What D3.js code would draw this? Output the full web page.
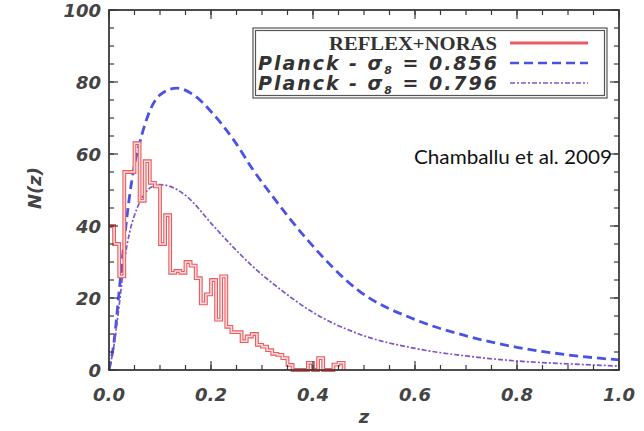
<!DOCTYPE html>
<html>
<head>
<meta charset="utf-8">
<script src="https://cdn.jsdelivr.net/npm/d3@7"></script>
<style>
  html, body { margin: 0; padding: 0; background: #fff; }
  svg { display: block; }
</style>
</head>
<body>
<script>
// Cluster redshift distribution N(z): observed histogram and two model predictions.

// REFLEX+NORAS histogram, bins of width 0.01 starting at z = 0
const histBinWidth = 0.01;
const histCounts = [40, 35, 26, 55, 55, 63, 47, 58, 52, 51,
                    35, 43, 27, 27.5, 27, 30, 29, 25.5, 18.5, 21,
                    25, 14, 26, 12, 10.5, 10.5, 8, 9.3, 10, 7,
                    6.5, 5.5, 4.5, 4.2, 3.3, 1.4, 0, 0, 0, 2,
                    0, 3.3, 0, 0, 1.5, 2];

// Planck model, sigma_8 = 0.856: [z, N]
const planck856 = [[0, 0], [0.01, 8], [0.02, 22], [0.03, 36], [0.04, 48], [0.05, 57],
                   [0.06, 63], [0.07, 68], [0.08, 72], [0.1, 76.4], [0.133, 78.3],
                   [0.165, 76.5], [0.205, 71], [0.244, 64], [0.283, 55.5], [0.322, 48],
                   [0.39, 36], [0.49, 22], [0.6, 14], [0.7, 9.5], [0.8, 6.3], [0.9, 4.2], [1.0, 2.8]];

// Planck model, sigma_8 = 0.796: [z, N]
const planck796 = [[0, 0], [0.01, 7], [0.02, 18], [0.03, 30], [0.04, 38], [0.05, 43],
                   [0.06, 46.5], [0.07, 49], [0.085, 51], [0.1, 51.5], [0.12, 51],
                   [0.15, 48.5], [0.205, 40], [0.231, 36], [0.28, 29], [0.335, 22.5],
                   [0.4, 16], [0.49, 10], [0.6, 6], [0.7, 3.9], [0.8, 2.5], [0.9, 1.7], [1.0, 1.1]];

const xTickValues = [0, 0.2, 0.4, 0.6, 0.8, 1.0];
const yTickValues = [0, 20, 40, 60, 80, 100];
const legendLabels = ["REFLEX+NORAS", "Planck - \u03C3", "Planck - \u03C3"];
const sigmaValues = ["0.856", "0.796"];
const citation = "Chamballu et al. 2009";

const W = 644, H = 431;
const plot = { left: 109, top: 10, right: 619, bottom: 370 };

const svg = d3.select("body").append("svg")
  .attr("width", W).attr("height", H);

const x = d3.scaleLinear().domain([0, 1]).range([plot.left, plot.right]);
const y = d3.scaleLinear().domain([0, 100]).range([plot.bottom, plot.top]);

const axisColor = "#3a3a3a";
const textColor = "#444";
const labelFont = "'DejaVu Sans', sans-serif";

// --- model curves -----------------------------------------------------
const curve = d3.line()
  .x(d => x(d[0])).y(d => y(d[1]))
  .curve(d3.curveMonotoneX);

svg.append("path")
  .attr("d", curve(planck856))
  .attr("fill", "none")
  .attr("stroke", "#4a52e6")
  .attr("stroke-width", 2.8)
  .attr("stroke-dasharray", "9,5");

svg.append("path")
  .attr("d", curve(planck796))
  .attr("fill", "none")
  .attr("stroke", "#7d55c9")
  .attr("stroke-width", 1.7)
  .attr("stroke-dasharray", "5,2,2,2");

// --- histogram (step outline) -----------------------------------------
const histPts = histCounts.map((v, i) => [i * histBinWidth, v]);
histPts.push([histCounts.length * histBinWidth, 0]);
const step = d3.line()
  .x(d => x(d[0])).y(d => y(d[1]))
  .curve(d3.curveStepAfter);

svg.append("path")
  .attr("d", step(histPts))
  .attr("fill", "none")
  .attr("stroke", "#ec5b5f")
  .attr("stroke-width", 3.8);
svg.append("path")
  .attr("d", step(histPts))
  .attr("fill", "none")
  .attr("stroke", "#fbdcdc")
  .attr("stroke-width", 1.6);

// --- frame and ticks --------------------------------------------------
const axes = svg.append("g");

const xMinor = d3.range(0, 1.0001, 0.05);
const yMinor = d3.range(0, 100.001, 5);

function drawXTicks(values, len) {
  values.forEach(v => {
    axes.append("line").attr("x1", x(v)).attr("x2", x(v))
      .attr("y1", plot.bottom).attr("y2", plot.bottom - len);
    axes.append("line").attr("x1", x(v)).attr("x2", x(v))
      .attr("y1", plot.top).attr("y2", plot.top + len);
  });
}
function drawYTicks(values, len) {
  values.forEach(v => {
    axes.append("line").attr("y1", y(v)).attr("y2", y(v))
      .attr("x1", plot.left).attr("x2", plot.left + len);
    axes.append("line").attr("y1", y(v)).attr("y2", y(v))
      .attr("x1", plot.right).attr("x2", plot.right - len);
  });
}
drawXTicks(xMinor, 5);
drawXTicks(xTickValues, 9);
drawYTicks(yMinor, 5);
drawYTicks(yTickValues, 9);
axes.selectAll("line").attr("stroke", axisColor).attr("stroke-width", 1.2);

axes.append("rect")
  .attr("x", plot.left).attr("y", plot.top)
  .attr("width", plot.right - plot.left).attr("height", plot.bottom - plot.top)
  .attr("fill", "none").attr("stroke", axisColor).attr("stroke-width", 1.8);

// tick labels
svg.append("g").selectAll("text").data(xTickValues).join("text")
  .attr("x", d => x(d)).attr("y", 401)
  .attr("text-anchor", "middle")
  .attr("font-family", labelFont).attr("font-style", "italic").attr("font-weight", "bold")
  .attr("font-size", 18).attr("fill", textColor)
  .text(d => d3.format(".1f")(d));

svg.append("g").selectAll("text").data(yTickValues).join("text")
  .attr("x", 101).attr("y", d => y(d) + 6.5)
  .attr("text-anchor", "end")
  .attr("font-family", labelFont).attr("font-style", "italic").attr("font-weight", "bold")
  .attr("font-size", 18).attr("fill", textColor)
  .text(d => d);

// axis titles
svg.append("text")
  .attr("x", (plot.left + plot.right) / 2).attr("y", 423)
  .attr("text-anchor", "middle")
  .attr("font-family", labelFont).attr("font-style", "italic").attr("font-weight", "bold")
  .attr("font-size", 18).attr("fill", textColor)
  .text("z");

svg.append("text")
  .attr("transform", "translate(41,188) rotate(-90)")
  .attr("text-anchor", "middle")
  .attr("font-family", labelFont).attr("font-style", "italic").attr("font-weight", "bold")
  .attr("font-size", 18).attr("fill", textColor)
  .text("N(z)");

// --- legend -----------------------------------------------------------
const legend = svg.append("g");
legend.append("rect").attr("x", 253).attr("y", 28).attr("width", 354).attr("height", 70)
  .attr("fill", "#fff").attr("stroke", "#555").attr("stroke-width", 1.2);
legend.append("rect").attr("x", 255.5).attr("y", 30.5).attr("width", 349).attr("height", 65)
  .attr("fill", "none").attr("stroke", "#555").attr("stroke-width", 1.2);

const rowY = [43, 63, 83];

legend.append("text")
  .attr("x", 497).attr("y", rowY[0] + 6.5)
  .attr("text-anchor", "end")
  .attr("font-family", "'Liberation Serif', serif").attr("font-weight", "bold")
  .attr("font-size", 19).attr("fill", "#333")
  .attr("textLength", 168).attr("lengthAdjust", "spacingAndGlyphs")
  .text(legendLabels[0]);

[1, 2].forEach(i => {
  const t = legend.append("text")
    .attr("x", 258).attr("y", rowY[i] + 6.5)
    .attr("font-family", labelFont).attr("font-style", "italic").attr("font-weight", "bold")
    .attr("font-size", 19).attr("fill", "#333")
    .attr("textLength", 239).attr("lengthAdjust", "spacing");
  t.append("tspan").text(legendLabels[i]);
  t.append("tspan").attr("font-size", 11).attr("dy", 4).text("8");
  t.append("tspan").attr("dy", -4).text(" = " + sigmaValues[i - 1]);
});

legend.append("line").attr("x1", 510).attr("x2", 588).attr("y1", rowY[0]).attr("y2", rowY[0])
  .attr("stroke", "#ec5b5f").attr("stroke-width", 3);
legend.append("line").attr("x1", 510).attr("x2", 588).attr("y1", rowY[1]).attr("y2", rowY[1])
  .attr("stroke", "#4a52e6").attr("stroke-width", 2.6).attr("stroke-dasharray", "9,5");
legend.append("line").attr("x1", 510).attr("x2", 588).attr("y1", rowY[2]).attr("y2", rowY[2])
  .attr("stroke", "#7d55c9").attr("stroke-width", 1.7).attr("stroke-dasharray", "5,2,2,2");

// citation
svg.append("text")
  .attr("x", 414).attr("y", 164)
  .attr("font-family", "Lato, 'Open Sans', sans-serif")
  .attr("font-size", 19).attr("fill", "#111")
  .attr("textLength", 198).attr("lengthAdjust", "spacingAndGlyphs")
  .text(citation);
</script>
</body>
</html>
